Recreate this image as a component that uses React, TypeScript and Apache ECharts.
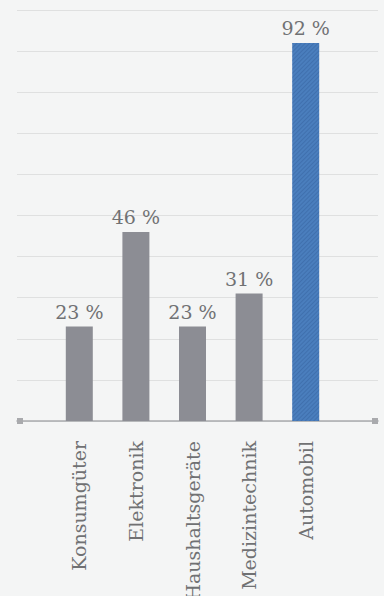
import React, { useEffect, useRef } from "react";
import * as echarts from "echarts";

const categories = ["Konsumgüter", "Elektronik", "Haushaltsgeräte", "Medizintechnik", "Automobil"];
const values = [23, 46, 23, 31, 92];
const highlightIndex = 4;
const yMin = 0;
const yMax = 100;
const yInterval = 10;

const FONT = "DejaVu Serif";
const TEXT = "#707173";
const GRAY = "#8c8d94";
const BLUE = "#4a7ebd";

export default function App() {
  const ref = useRef<HTMLDivElement>(null);
  useEffect(() => {
    if (!ref.current) return;
    const chart = echarts.init(ref.current, null, { renderer: "svg" });
    const data = values.map((v, i) =>
      i === highlightIndex
        ? {
            value: v,
            itemStyle: {
              color: BLUE,
              decal: {
                symbol: "rect",
                symbolSize: 1,
                dashArrayX: [1, 0],
                dashArrayY: [1, 2],
                rotation: -Math.PI / 4,
                color: "rgba(40,80,140,0.3)",
              },
            },
          }
        : { value: v, itemStyle: { color: GRAY } }
    );
    chart.setOption({
      animation: false,
      backgroundColor: "#f4f5f5",
      grid: [
        { left: 17, right: 6, top: 10, bottom: 175, outerBoundsMode: "none", containLabel: false },
        { left: 51, right: 50, top: 10, bottom: 175, outerBoundsMode: "none", containLabel: false },
      ],
      xAxis: [
        {
          gridIndex: 0,
          type: "value",
          min: 0,
          max: 1,
          axisLabel: { show: false },
          axisTick: { show: false },
          splitLine: { show: false },
          axisLine: {
            show: true,
            lineStyle: { color: "#a9aaad", width: 1.5 },
            symbol: ["rect", "rect"],
            symbolSize: [6, 6],
            symbolOffset: [3, -3],
          },
        },
        {
          gridIndex: 1,
          type: "category",
          data: categories,
          axisLine: { show: false },
          axisTick: { show: false },
          axisLabel: {
            rotate: 90,
            margin: 20,
            color: TEXT,
            fontFamily: FONT,
            fontSize: 19,
            interval: 0,
          },
        },
      ],
      yAxis: [
        {
          gridIndex: 0,
          type: "value",
          min: yMin,
          max: yMax,
          interval: yInterval,
          axisLabel: { show: false },
          axisTick: { show: false },
          axisLine: { show: false },
          splitLine: { lineStyle: { color: "#dfe0e0", width: 1 } },
        },
        {
          gridIndex: 1,
          type: "value",
          min: yMin,
          max: yMax,
          interval: yInterval,
          show: false,
          splitLine: { show: false },
        },
      ],
      series: [
        {
          type: "bar",
          xAxisIndex: 1,
          yAxisIndex: 1,
          data,
          barWidth: 27,
          label: {
            show: true,
            position: "top",
            distance: 5,
            color: TEXT,
            fontFamily: FONT,
            fontSize: 19,
            formatter: (p: any) => `${p.value} %`,
          },
        },
      ],
    });
    return () => chart.dispose();
  }, []);
  return (
    <div
      ref={ref}
      style={{ position: "absolute", left: 0, top: 0, width: 384, height: 596 }}
    />
  );
}
